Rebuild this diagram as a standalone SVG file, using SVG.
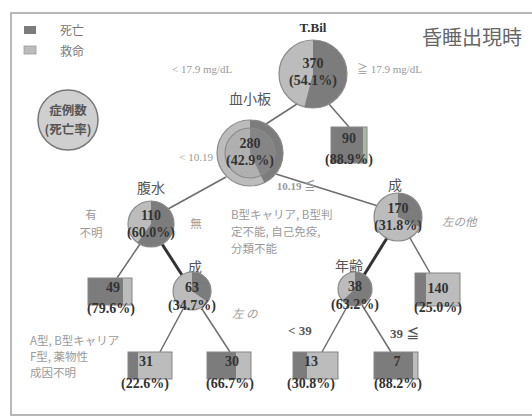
<svg xmlns="http://www.w3.org/2000/svg" width="532" height="417" viewBox="0 0 532 417">
<style>
.frame{fill:none;stroke:#a0a0a0;stroke-width:1.5}
.dark{fill:#7c7c7c}
.light{fill:#bcbcbc}
.cstroke{fill:none;stroke:#8a8a8a;stroke-width:1.2}
.box{fill:none;stroke:#858585;stroke-width:1}
.num{font-family:"Liberation Serif",serif;font-weight:bold;font-size:14px;fill:#333;text-anchor:middle}
.lab{font-family:"Liberation Serif","Noto Sans CJK JP",serif;font-size:11px;fill:#999}
.jp{font-family:"Noto Sans CJK JP",sans-serif;font-size:14px;fill:#555;text-anchor:middle}
.jpl{font-family:"Noto Sans CJK JP",sans-serif;font-size:11.5px;fill:#9a9a9a}
.conn line{stroke:#6e6e6e;stroke-width:1.5}
.conn line.thick{stroke:#333;stroke-width:3}
</style>
<rect x="0" y="0" width="532" height="417" fill="#fff"/>
<path class="frame" d="M532 13 H11 V415 H532"/>

<g id="legend">
<rect x="24" y="26" width="12" height="8" class="dark"/>
<rect x="24" y="46" width="12" height="8" class="light" stroke="#999" stroke-width="0.8"/>
<text x="60" y="35" class="jpl" style="fill:#777;font-size:12px">死亡</text>
<text x="60" y="56" class="jpl" style="fill:#777;font-size:12px">救命</text>
</g>
<g id="legend-circle">
<circle cx="68" cy="120" r="30" fill="#cfcfcf" stroke="#777" stroke-width="1.5"/>
<text x="68" y="115" class="jp" style="font-size:12.5px;font-weight:bold;fill:#555">症例数</text>
<text x="68" y="134" class="jp" style="font-size:12.5px;font-weight:bold;fill:#555">(死亡率)</text>
</g>
<g id="title">
<text x="522" y="45" class="jp" style="font-size:20px;text-anchor:end;fill:#666">昏睡出現時</text>
</g>

<g class="conn" id="connectors">
<line x1="297" y1="104" x2="266" y2="124"/>
<line x1="329" y1="104" x2="349" y2="127"/>
<line x1="226" y1="177" x2="168" y2="209"/>
<line x1="276" y1="174" x2="378" y2="206"/>
<line x1="140" y1="244" x2="117" y2="278"/>
<line class="thick" x1="162" y1="244" x2="182" y2="275"/>
<line class="thick" x1="387" y1="238" x2="364" y2="275"/>
<line x1="410" y1="238" x2="430" y2="273"/>
<line x1="183" y1="309" x2="160" y2="352"/>
<line x1="202" y1="309" x2="230" y2="352"/>
<line x1="348" y1="305" x2="322" y2="352"/>
<line x1="362" y1="305" x2="391" y2="352"/>
</g>

<g id="edge-labels">
<text x="172" y="73" class="lab">&lt; 17.9 mg/dL</text>
<text x="357" y="73" class="lab">≧ 17.9 mg/dL</text>
<text x="213" y="161" class="lab" text-anchor="end">&lt; 10.19</text>
<text x="296" y="190" class="lab" text-anchor="middle" style="font-weight:bold">10.19 ≦</text>
<text x="91" y="219" class="jpl" text-anchor="middle">有</text>
<text x="91" y="237" class="jpl" text-anchor="middle">不明</text>
<text x="196" y="228" class="jpl" text-anchor="middle">無</text>
<text x="231" y="219" class="jpl">B型キャリア, B型判</text>
<text x="231" y="236" class="jpl">定不能, 自己免疫,</text>
<text x="231" y="253" class="jpl">分類不能</text>
<text x="442" y="226" class="jpl" style="font-style:italic">左の他</text>
<text x="30" y="345" class="jpl">A型, B型キャリア</text>
<text x="30" y="361" class="jpl">F型, 薬物性</text>
<text x="30" y="377" class="jpl">成因不明</text>
<text x="232" y="318" class="jpl" style="font-style:italic">左 の</text>
<text x="288" y="335" class="lab" style="fill:#555;font-size:13px;font-weight:bold">&lt; 39</text>
<text x="390" y="338" class="lab" style="fill:#555;font-size:13px;font-weight:bold">39 ≦</text>
</g>

<g id="n-root">
<text x="313" y="32" class="num" style="font-size:13px">T.Bil</text>
<circle cx="313" cy="74" r="34" class="light"/>
<path class="dark" d="M313 74 L313 40 A34 34 0 1 1 304.3 106.9 Z"/>
<circle cx="313" cy="74" r="34" class="cstroke"/>
<text x="313" y="68" class="num">370</text>
<text x="313" y="85" class="num">(54.1%)</text>
</g>

<g id="n-280">
<text x="250" y="104" class="jp">血小板</text>
<circle cx="250" cy="153" r="33" class="light"/>
<path class="dark" d="M250 153 L250 120 A33 33 0 0 1 264.3 182.8 Z"/>
<circle cx="250" cy="153" r="33" class="cstroke"/>
<circle cx="250" cy="153" r="25" fill="#b0b0b0"/>
<path d="M250 153 L250 128 A25 25 0 0 1 260.8 175.6 Z" fill="#858585"/>
<circle cx="250" cy="153" r="25" class="cstroke"/>
<text x="250" y="148" class="num">280</text>
<text x="250" y="165" class="num">(42.9%)</text>
</g>

<g id="n-90">
<rect x="331" y="127" width="32" height="36" class="dark"/>
<rect x="363" y="127" width="4" height="36" fill="#a9b8a0"/>
<rect x="331" y="127" width="36" height="36" class="box"/>
<text x="349" y="143" class="num">90</text>
<text x="349" y="164" class="num">(88.9%)</text>
</g>

<g id="n-110">
<text x="151" y="193" class="jp">腹水</text>
<circle cx="151" cy="224" r="23" class="light"/>
<path class="dark" d="M151 224 L151 201 A23 23 0 1 1 137.5 242.6 Z"/>
<circle cx="151" cy="224" r="23" class="cstroke"/>
<text x="151" y="220" class="num">110</text>
<text x="151" y="237" class="num">(60.0%)</text>
</g>

<g id="n-170">
<text x="395" y="190" class="jp">成</text>
<circle cx="398" cy="217" r="24" class="light"/>
<path class="dark" d="M398 217 L398 193 A24 24 0 0 1 419.8 227 Z"/>
<circle cx="398" cy="217" r="24" class="cstroke"/>
<text x="398" y="213" class="num">170</text>
<text x="398" y="230" class="num">(31.8%)</text>
</g>

<g id="n-49">
<rect x="88" y="278" width="35" height="27" class="dark"/>
<rect x="123" y="278" width="9" height="27" class="light"/>
<rect x="88" y="278" width="44" height="27" class="box"/>
<text x="113" y="292" class="num">49</text>
<text x="111" y="313" class="num">(79.6%)</text>
</g>

<g id="n-63">
<text x="195" y="272" class="jp">成</text>
<circle cx="192" cy="291" r="19" class="light"/>
<path class="dark" d="M192 291 L192 272 A19 19 0 0 1 207.6 301.9 Z"/>
<circle cx="192" cy="291" r="19" class="cstroke"/>
<text x="192" y="292" class="num">63</text>
<text x="192" y="310" class="num">(34.7%)</text>
</g>

<g id="n-38">
<text x="349" y="271" class="jp">年齢</text>
<circle cx="355" cy="289" r="17" class="light"/>
<path class="dark" d="M355 289 L355 272 A17 17 0 1 1 342.5 300.5 Z"/>
<circle cx="355" cy="289" r="17" class="cstroke"/>
<text x="355" y="291" class="num">38</text>
<text x="355" y="309" class="num">(63.2%)</text>
</g>

<g id="n-140">
<rect x="415" y="273" width="11" height="33" class="dark"/>
<rect x="426" y="273" width="34" height="33" class="light"/>
<rect x="415" y="273" width="45" height="33" class="box"/>
<text x="438" y="293" class="num">140</text>
<text x="438" y="312" class="num">(25.0%)</text>
</g>

<g id="n-31">
<rect x="128" y="352" width="10" height="27" class="dark"/>
<rect x="138" y="352" width="34" height="27" class="light"/>
<rect x="128" y="352" width="44" height="27" class="box"/>
<text x="146" y="366" class="num">31</text>
<text x="145" y="388" class="num">(22.6%)</text>
</g>

<g id="n-30">
<rect x="207" y="352" width="29" height="27" class="dark"/>
<rect x="236" y="352" width="15" height="27" class="light"/>
<rect x="207" y="352" width="44" height="27" class="box"/>
<text x="232" y="366" class="num">30</text>
<text x="230" y="388" class="num">(66.7%)</text>
</g>

<g id="n-13">
<rect x="293" y="352" width="14" height="27" class="dark"/>
<rect x="307" y="352" width="31" height="27" class="light"/>
<rect x="293" y="352" width="45" height="27" class="box"/>
<text x="311" y="366" class="num">13</text>
<text x="311" y="388" class="num">(30.8%)</text>
</g>

<g id="n-7">
<rect x="374" y="352" width="39" height="27" class="dark"/>
<rect x="413" y="352" width="5" height="27" class="light"/>
<rect x="374" y="352" width="44" height="27" class="box"/>
<text x="397" y="366" class="num">7</text>
<text x="398" y="388" class="num">(88.2%)</text>
</g>
</svg>
